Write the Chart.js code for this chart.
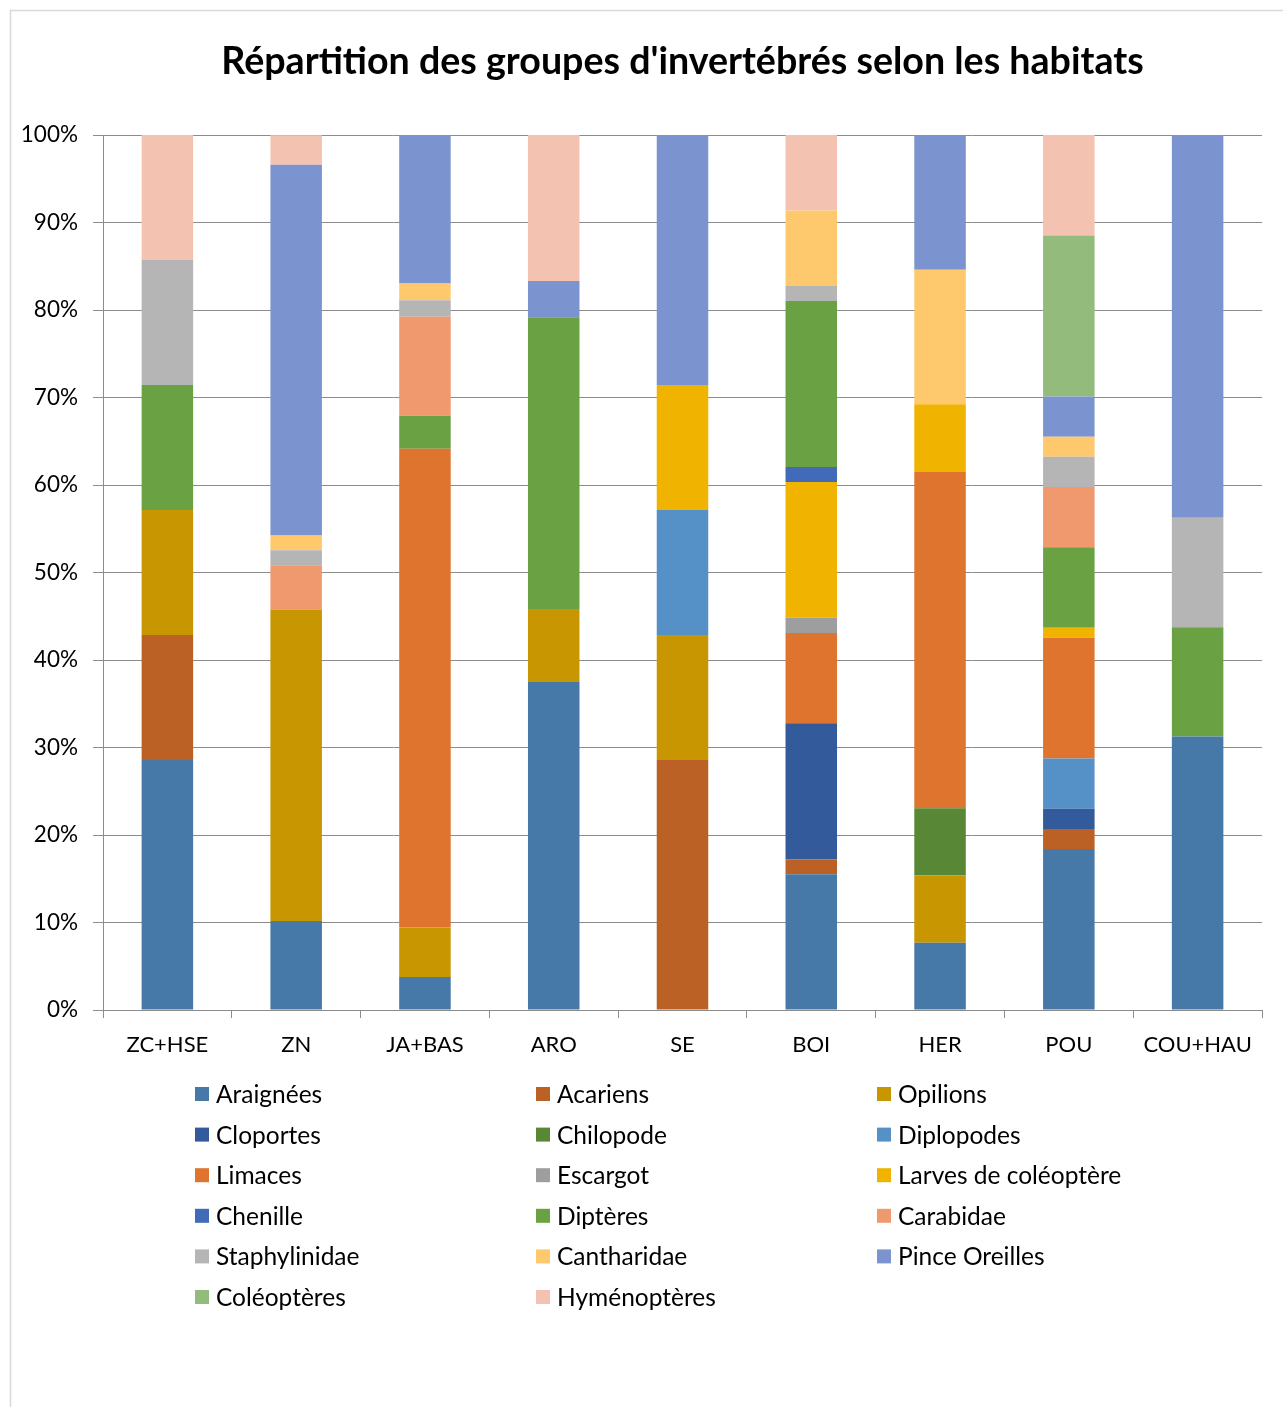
<!DOCTYPE html>
<html><head><meta charset="utf-8">
<script src="https://cdn.jsdelivr.net/npm/chart.js@4.4.1/dist/chart.umd.min.js"></script>
<style>html,body{margin:0;padding:0;background:#fff}canvas{display:block}</style>
</head><body>
<canvas id="c" width="1283" height="1407"></canvas>
<script>
const categories = ["ZC+HSE","ZN","JA+BAS","ARO","SE","BOI","HER","POU","COU+HAU"];
const seriesNames = ["Araignées","Acariens","Opilions","Cloportes","Chilopode","Diplopodes","Limaces","Escargot","Larves de coléoptère","Chenille","Diptères","Carabidae","Staphylinidae","Cantharidae","Pince Oreilles","Coléoptères","Hyménoptères"];
const seriesColors = ["#4678A8","#BB6125","#C79600","#335A9A","#588836","#5591C6","#DF742E","#9E9E9E","#F0B300","#416AB9","#6AA243","#F0996F","#B5B5B5","#FEC96C","#7B93CE","#93BB7B","#F4C2B1"];
const yTickLabels = ["0%","10%","20%","30%","40%","50%","60%","70%","80%","90%","100%"];

const araignees     = [28.57,10.17, 3.77,37.50, 0.00,15.52, 7.69,18.39,31.25];
const acariens      = [14.29, 0.00, 0.00, 0.00,28.57, 1.72, 0.00, 2.30, 0.00];
const opilions      = [14.29,35.59, 5.66, 8.33,14.29, 0.00, 7.69, 0.00, 0.00];
const cloportes     = [ 0.00, 0.00, 0.00, 0.00, 0.00,15.52, 0.00, 2.30, 0.00];
const chilopode     = [ 0.00, 0.00, 0.00, 0.00, 0.00, 0.00, 7.69, 0.00, 0.00];
const diplopodes    = [ 0.00, 0.00, 0.00, 0.00,14.29, 0.00, 0.00, 5.75, 0.00];
const limaces       = [ 0.00, 0.00,54.72, 0.00, 0.00,10.34,38.46,13.79, 0.00];
const escargot      = [ 0.00, 0.00, 0.00, 0.00, 0.00, 1.72, 0.00, 0.00, 0.00];
const larves        = [ 0.00, 0.00, 0.00, 0.00,14.29,15.52, 7.69, 1.15, 0.00];
const chenille      = [ 0.00, 0.00, 0.00, 0.00, 0.00, 1.72, 0.00, 0.00, 0.00];
const dipteres      = [14.29, 0.00, 3.77,33.33, 0.00,18.97, 0.00, 9.20,12.50];
const carabidae     = [ 0.00, 5.08,11.32, 0.00, 0.00, 0.00, 0.00, 6.90, 0.00];
const staphylinidae = [14.29, 1.69, 1.89, 0.00, 0.00, 1.72, 0.00, 3.45,12.50];
const cantharidae   = [ 0.00, 1.69, 1.89, 0.00, 0.00, 8.62,15.38, 2.30, 0.00];
const pinceOreilles = [ 0.00,42.37,16.98, 4.17,28.57, 0.00,15.38, 4.60,43.75];
const coleopteres   = [ 0.00, 0.00, 0.00, 0.00, 0.00, 0.00, 0.00,18.39, 0.00];
const hymenopteres  = [14.29, 3.39, 0.00,16.67, 0.00, 8.62, 0.00,11.49, 0.00];

const seriesValues = [araignees,acariens,opilions,cloportes,chilopode,diplopodes,limaces,escargot,larves,chenille,dipteres,carabidae,staphylinidae,cantharidae,pinceOreilles,coleopteres,hymenopteres];

const FONT = "Lato, Carlito, 'Open Sans', sans-serif";
const GRID = "#8C8C8C";

const frame = {
  id: 'frame',
  beforeDraw(chart){
    const ctx = chart.ctx; ctx.save();
    ctx.fillStyle = '#fff'; ctx.fillRect(0,0,chart.width,chart.height);
    ctx.strokeStyle = '#D9D9D9'; ctx.lineWidth = 1.5;
    ctx.strokeRect(10.5,10.5,1400,1500);
    ctx.restore();
  }
};

const gridLegend = {
  id: 'gridLegend',
  afterDraw(chart){
    const ctx = chart.ctx; ctx.save();
    ctx.font = "24.5px " + FONT; ctx.textBaseline = 'middle'; ctx.textAlign = 'left';
    chart.data.datasets.forEach((ds,i)=>{
      const col = i % 3, row = Math.floor(i/3);
      const x = 195 + col*341, y = 1094 + row*40.6;
      ctx.fillStyle = ds.backgroundColor; ctx.fillRect(x, y-7, 14, 14);
      ctx.fillStyle = '#000'; ctx.fillText(ds.label, x+21, y+1);
    });
    ctx.restore();
  }
};

function draw(){
  new Chart(document.getElementById('c'), {
    type: 'bar',
    data: {
      labels: categories,
      datasets: seriesNames.map((n,i)=>({
        label: n, data: seriesValues[i], backgroundColor: seriesColors[i],
        borderWidth: 0, barPercentage: 0.4, categoryPercentage: 1
      }))
    },
    options: {
      responsive: false, animation: false, devicePixelRatio: 1,
      layout: { padding: { left: 0, right: 21, top: 0, bottom: 337 } },
      plugins: {
        legend: { display: false },
        tooltip: { enabled: false },
        title: {
          display: true, fullSize: false,
          text: "Répartition des groupes d'invertébrés selon les habitats",
          color: '#000', font: { family: FONT, size: 37.6, weight: 'bold' },
          padding: { top: 39, bottom: 50.9 }
        }
      },
      scales: {
        x: {
          stacked: true,
          grid: { offset: true, drawOnChartArea: false, drawTicks: true, tickLength: 8, color: GRID },
          border: { display: true, color: GRID, width: 1 },
          ticks: { color: '#000', font: { family: FONT, size: 22 }, padding: 14, maxRotation: 0, autoSkip: false },
          afterFit(s){ s.height = 60; }
        },
        y: {
          stacked: true, min: 0, max: 100,
          grid: { color: GRID, lineWidth: 1, tickLength: 10, drawTicks: true },
          border: { display: true, color: GRID, width: 1 },
          ticks: { stepSize: 10, color: '#000', font: { family: FONT, size: 22.5 }, padding: 15,
                   callback: (v,i)=> yTickLabels[Math.round(v/10)] },
          afterFit(s){ s.width = 103; }
        }
      }
    },
    plugins: [frame, gridLegend]
  });
}
if (document.fonts && document.fonts.load) {
  document.fonts.load("22px Lato").then(draw, draw);
} else { draw(); }
</script>
</body></html>
